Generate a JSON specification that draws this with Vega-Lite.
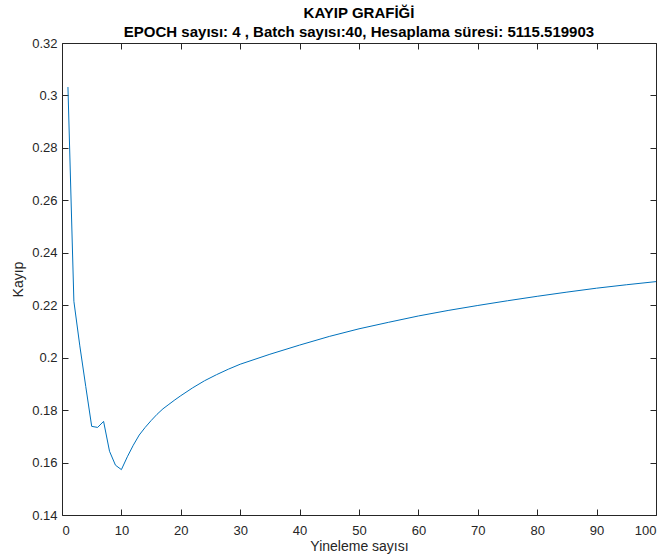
{
  "$schema": "https://vega.github.io/schema/vega-lite/v6.json",
  "autosize": "none",
  "width": 594,
  "height": 472,
  "padding": {"left": 62, "top": 43, "right": 13, "bottom": 43},
  "background": "white",
  "config": {
    "font": "Liberation Sans",
    "view": {"stroke": null},
    "axis": {
      "domainColor": "#262626",
      "tickColor": "#262626",
      "labelColor": "#262626",
      "titleColor": "#262626",
      "labelFont": "Liberation Sans",
      "titleFont": "Liberation Sans",
      "labelFontSize": 13,
      "titleFontSize": 14,
      "titleFontWeight": "normal",
      "grid": false,
      "tickSize": -6,
      "domainWidth": 1,
      "tickWidth": 1
    }
  },
  "title": {
    "text": ["KAYIP GRAFİĞİ", "EPOCH sayısı: 4 , Batch sayısı:40, Hesaplama süresi: 5115.519903"],
    "font": "Liberation Sans",
    "fontSize": 15,
    "fontWeight": "bold",
    "color": "#000000",
    "anchor": "middle",
    "lineHeight": 19,
    "offset": -3
  },
  "data": {
    "values": [
      {"x": 1, "y": 0.3032},
      {"x": 2, "y": 0.2215},
      {"x": 3, "y": 0.2045},
      {"x": 4, "y": 0.189},
      {"x": 5, "y": 0.1738},
      {"x": 6, "y": 0.1734},
      {"x": 7, "y": 0.1757},
      {"x": 8, "y": 0.1643},
      {"x": 9, "y": 0.159},
      {"x": 10, "y": 0.1573},
      {"x": 11, "y": 0.1622},
      {"x": 12, "y": 0.1666},
      {"x": 13, "y": 0.1705},
      {"x": 14, "y": 0.1734},
      {"x": 15, "y": 0.176},
      {"x": 16, "y": 0.1784},
      {"x": 17, "y": 0.1805},
      {"x": 18, "y": 0.1822},
      {"x": 19, "y": 0.1839},
      {"x": 20, "y": 0.1855},
      {"x": 22, "y": 0.1885},
      {"x": 24, "y": 0.1912},
      {"x": 26, "y": 0.1935},
      {"x": 28, "y": 0.1956},
      {"x": 30, "y": 0.1975},
      {"x": 35, "y": 0.2013},
      {"x": 40, "y": 0.2048},
      {"x": 45, "y": 0.2081},
      {"x": 50, "y": 0.211},
      {"x": 55, "y": 0.2135},
      {"x": 60, "y": 0.2159},
      {"x": 65, "y": 0.218},
      {"x": 70, "y": 0.2199},
      {"x": 75, "y": 0.2217},
      {"x": 80, "y": 0.2234},
      {"x": 85, "y": 0.225},
      {"x": 90, "y": 0.2265},
      {"x": 95, "y": 0.2278},
      {"x": 100, "y": 0.229}
    ]
  },
  "layer": [
    {
      "mark": {"type": "line", "color": "#0072BD", "strokeWidth": 1, "clip": true},
      "encoding": {
        "x": {
          "field": "x", "type": "quantitative",
          "scale": {"domain": [0, 100], "nice": false, "zero": false},
          "axis": {"title": "Yineleme sayısı", "values": [0,10,20,30,40,50,60,70,80,90,100], "labelPadding": 15, "titlePadding": 2, "orient": "bottom"}
        },
        "y": {
          "field": "y", "type": "quantitative",
          "scale": {"domain": [0.14, 0.32], "nice": false, "zero": false},
          "axis": {"title": "Kayıp", "values": [0.14,0.16,0.18,0.2,0.22,0.24,0.26,0.28,0.3,0.32], "format": ".2~f", "labelPadding": 11, "titlePadding": 6, "orient": "left"}
        }
      }
    },
    {
      "mark": {"type": "line", "opacity": 0},
      "encoding": {
        "x": {
          "field": "x", "type": "quantitative",
          "scale": {"domain": [0, 100], "nice": false, "zero": false},
          "axis": {"title": null, "labels": false, "values": [0,10,20,30,40,50,60,70,80,90,100], "orient": "top"}
        },
        "y": {
          "field": "y", "type": "quantitative",
          "scale": {"domain": [0.14, 0.32], "nice": false, "zero": false},
          "axis": {"title": null, "labels": false, "values": [0.14,0.16,0.18,0.2,0.22,0.24,0.26,0.28,0.3,0.32], "orient": "right"}
        }
      }
    }
  ],
  "resolve": {"axis": {"x": "independent", "y": "independent"}}
}
